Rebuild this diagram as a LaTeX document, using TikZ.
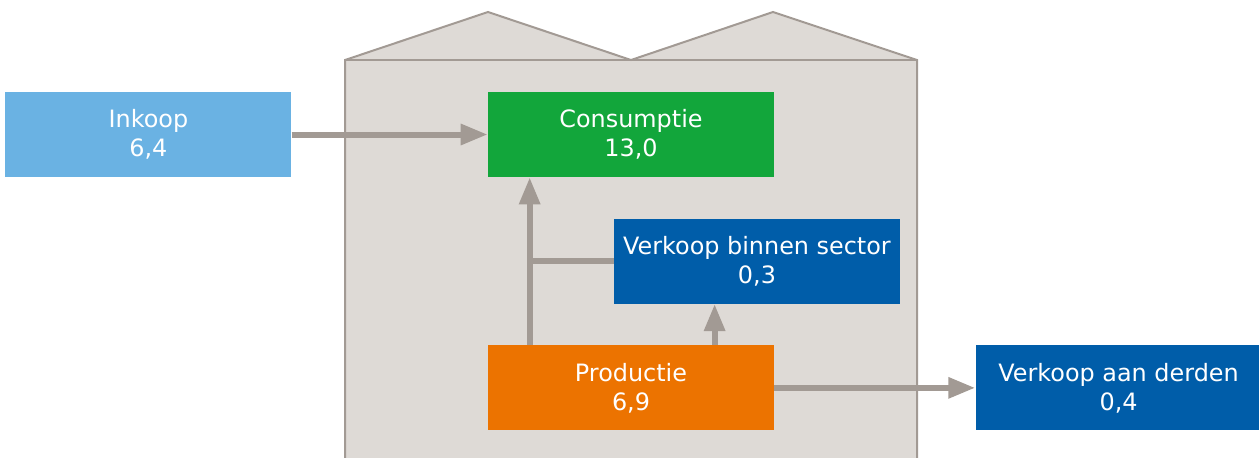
\documentclass[tikz,border=0pt]{standalone}
\usepackage{fontspec}
\setmainfont{DejaVu Sans}
\usepackage{xcolor}
\usepackage{tikz}
\usetikzlibrary{positioning,arrows.meta}
\definecolor{lichtblauw}{HTML}{6AB2E3}
\definecolor{groen}{HTML}{12A63B}
\definecolor{donkerblauw}{HTML}{005DA9}
\definecolor{oranje}{HTML}{EC7300}
\definecolor{muur}{HTML}{DEDAD6}
\definecolor{lijn}{HTML}{A29A94}
\tikzstyle{post}=[rectangle, text=white, align=center, inner sep=0pt,
        minimum width=5.72cm, minimum height=1.7cm, font=\fontsize{13.6}{16.5}\selectfont]
\tikzstyle{flow}=[-{Triangle[length=0.54cm, width=0.4cm]}, draw=lijn, line width=0.12cm]
\tikzstyle{line}=[-, draw=lijn, line width=0.12cm]
\tikzstyle{building}=[draw=lijn, fill=muur, line width=0.04cm]

\begin{document}
\begin{tikzpicture}[x=0.02cm, y=-0.02cm]
    \useasboundingbox (0,0) rectangle (1259,457);
    % gebouw
    \draw[building] (345,470) -- (345,60) -- (488,12) -- (631,60) -- (773,12) -- (917,60) -- (917,470);
    \draw[building] (345,60) -- (917,60);
    \node (Consumptie) [post, fill=groen] at (631,134.5) {Consumptie\\13,0};
    \node (Inkoop) [post, fill=lichtblauw, left=3.92cm of Consumptie] {Inkoop\\6,4};
    \node (Binnen) [post, fill=donkerblauw, below=0.82cm of Consumptie, xshift=2.52cm] {Verkoop binnen sector\\0,3};
    \node (Productie) [post, fill=oranje, below=0.82cm of Binnen, xshift=-2.52cm] {Productie\\6,9};
    \node (Derden) [post, fill=donkerblauw, right=4.02cm of Productie] {Verkoop aan derden\\0,4};
	\draw[flow] (Inkoop) -- (Consumptie);
    \draw[flow] ([xshift=0.84cm]Productie.north west) -- ([xshift=0.84cm]Consumptie.south west);
    \draw[line] (Binnen.west) -- ++(-1.68cm,0);
    \draw[flow] ([xshift=4.54cm]Productie.north west) -- ++(0,0.82cm);
    \draw[flow] (Productie) -- (Derden);
\end{tikzpicture}
\end{document}
